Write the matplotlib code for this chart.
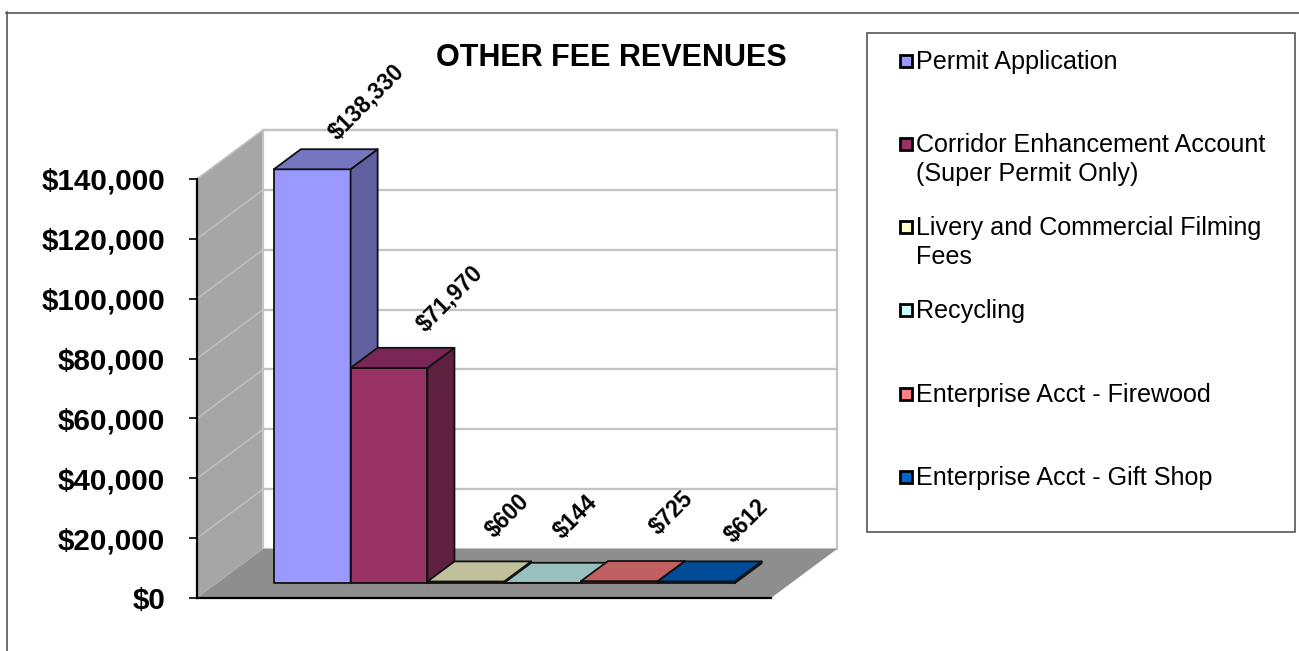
# -*- coding: utf-8 -*-

import matplotlib
matplotlib.use("Agg")
import matplotlib.pyplot as plt
from matplotlib.lines import Line2D
from matplotlib.patches import Polygon, Rectangle

plt.rcParams["font.family"] = ["Liberation Sans", "DejaVu Sans"]

# Data
series_names = [
    "Permit Application",
    "Corridor Enhancement Account\n(Super Permit Only)",
    "Livery and Commercial Filming\nFees",
    "Recycling",
    "Enterprise Acct - Firewood",
    "Enterprise Acct - Gift Shop",
]
series_values = [138330, 71970, 600, 144, 725, 612]
value_labels = ["$138,330", "$71,970", "$600", "$144", "$725", "$612"]
y_ticks = [0, 20000, 40000, 60000, 80000, 100000, 120000, 140000]
y_tick_labels = ["$0", "$20,000", "$40,000", "$60,000", "$80,000",
                 "$100,000", "$120,000", "$140,000"]

# Style
front_colors = ["#9999FF", "#993366", "#FFFFCC", "#CCFFFF", "#FF8080", "#0066CC"]
top_colors = ["#7676C0", "#7A2657", "#C0C09A", "#99C0BF", "#C06060", "#004C99"]
side_colors = ["#6060A0", "#602040", "#A0A080", "#80A0A0", "#A05050", "#004080"]
label_nudge = [(54, 67), (61, 69), (42, 66), (33, 66), (52, 68), (51, 60)]

W, H = 1299, 651
fig = plt.figure(figsize=(W / 100, H / 100), dpi=100, facecolor="white")
ax = fig.add_axes([197 / W, 1 - 598 / H, 574 / W, 419 / H])
ax.set_xlim(-1.242, 6.232)
ax.set_ylim(0, 140000)
ax.patch.set_visible(False)

# oblique projection, one unit of depth = whole floor
DX = 66 / 76.8
DY = 49 * 140000 / 419
x0, x1 = ax.get_xlim()


def proj(x, y, d):
    return (x + d * DX, y + d * DY)


def face(pts, color, edge="none", lw=0, z=1):
    ax.add_patch(Polygon(pts, closed=True, facecolor=color, edgecolor=edge,
                         linewidth=lw, zorder=z, clip_on=False, joinstyle="round"))


# walls and floor
face([proj(x0, 0, 0), proj(x0, 0, 1), proj(x0, 140000, 1), proj(x0, 140000, 0)], "#A6A6A6")
face([proj(x0, 0, 1), proj(x1, 0, 1), proj(x1, 140000, 1), proj(x0, 140000, 1)],
     "white", edge="#C4C4C4", lw=1.6)
face([proj(x0, 0, 0), proj(x1, 0, 0), proj(x1, 0, 1), proj(x0, 0, 1)], "#8E8E8E", z=2)

for t in y_ticks[1:]:
    a, b = zip(proj(x0, t, 0), proj(x0, t, 1))
    ax.plot(a, b, color="#BEBEBE", lw=1.2, zorder=1.5, clip_on=False)
    a, b = zip(proj(x0, t, 1), proj(x1, t, 1))
    ax.plot(a, b, color="#C4C4C4", lw=1.7, zorder=1.5, clip_on=False)

# bars, front at depth 0.3 and back at depth 0.71
D0, D1 = 0.3, 0.71
for i, v in enumerate(series_values):
    l, r = i - 0.5, i + 0.5
    z = 3 + i * 0.1
    face([proj(l, v, D0), proj(r, v, D0), proj(r, 0, D0), proj(l, 0, D0)],
         front_colors[i], "#111111", 1.3, z)
    face([proj(r, 0, D0), proj(r, v, D0), proj(r, v, D1), proj(r, 0, D1)],
         side_colors[i], "#111111", 1.3, z)
    face([proj(l, v, D0), proj(r, v, D0), proj(r, v, D1), proj(l, v, D1)],
         top_colors[i], "#111111", 1.3, z)
    ax.annotate(value_labels[i], xy=proj(i, v, D0), xytext=label_nudge[i],
                textcoords="offset pixels", rotation=45, rotation_mode="anchor",
                ha="center", va="center", fontsize=16.5, fontweight="bold",
                annotation_clip=False, zorder=10)

ax.set_xticks([])
ax.set_yticks(y_ticks, y_tick_labels, fontsize=21.3, fontweight="bold")
ax.tick_params(axis="y", length=6, width=1.2, pad=17, color="black")
for s in ["top", "right"]:
    ax.spines[s].set_visible(False)
for s in ["left", "bottom"]:
    ax.spines[s].set_linewidth(1.6)
    ax.spines[s].set_color("black")
    ax.spines[s].set_zorder(8)


def fx(px):
    return px / W


def fy(py):
    return 1 - py / H


# outer frame, only top and left are on the canvas
fig.add_artist(Line2D([fx(6), fx(W)], [fy(12.5), fy(12.5)], color="#555555", lw=1.2))
fig.add_artist(Line2D([fx(6.5), fx(6.5)], [fy(12), fy(H)], color="#555555", lw=1.2))

fig.text(fx(611), fy(58), "OTHER FEE REVENUES", ha="center", va="center",
         fontsize=22, fontweight="bold")

# legend box
fig.add_artist(Rectangle((fx(867), fy(532)), 428 / W, 499 / H, transform=fig.transFigure,
                         facecolor="white", edgecolor="#555555", lw=1.2))
legend_rows = [61, 144, 227, 310, 394, 477]
for i, name in enumerate(series_names):
    y = legend_rows[i]
    fig.add_artist(Rectangle((fx(899.5), fy(y + 6)), 12 / W, 12 / H, transform=fig.transFigure,
                             facecolor=front_colors[i], edgecolor="black", lw=2))
    fig.text(fx(916), fy(y - 11), name, ha="left", va="top", fontsize=18.1,
             linespacing=1.27)

fig.savefig("out.png", dpi=100)
plt.close(fig)
